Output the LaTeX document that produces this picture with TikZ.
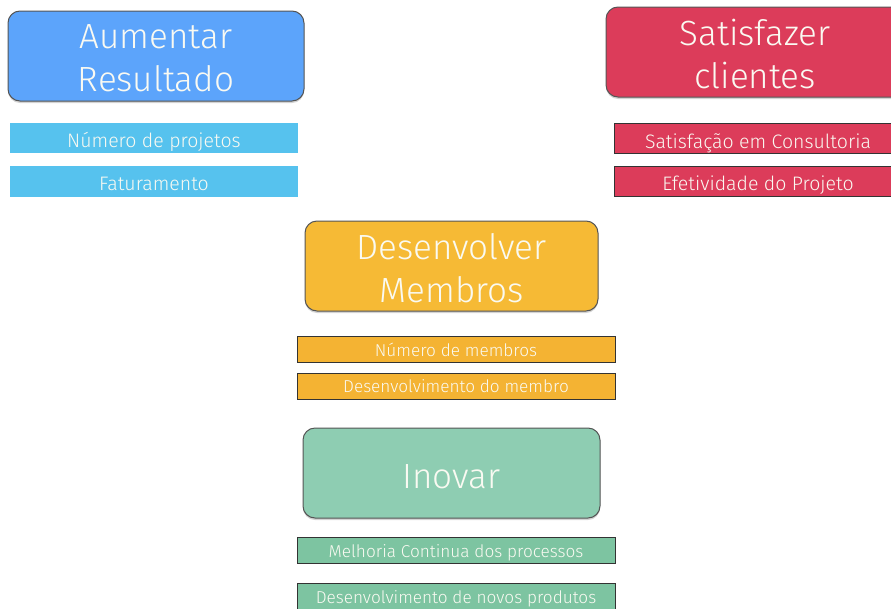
\documentclass[tikz,border=0pt]{standalone}
\usepackage{fontspec}
\setmainfont{Fira Sans Light}
\usetikzlibrary{shadows}
\definecolor{cblue}{HTML}{5CA4FB}
\definecolor{cblueb}{HTML}{56C2EE}
\definecolor{cred}{HTML}{DC3C5A}
\definecolor{cyel}{HTML}{F6BA35}
\definecolor{cyelb}{HTML}{F4B333}
\definecolor{cgreen}{HTML}{8ECDB2}
\definecolor{cgreenb}{HTML}{7DC4A1}
\definecolor{ctext}{HTML}{FAFAF2}
\definecolor{cedge}{HTML}{555555}
% text whose baseline lies #1 pt above the node centre, taking no room
\newcommand{\bl}[2]{\raisebox{#1pt}[0pt][0pt]{#2}}
\newcommand{\twolines}[2]{\begin{tabular}[t]{@{}c@{}}#1\\#2\end{tabular}}
\tikzset{
  bigbox/.style={draw=cedge, line width=1pt, rounded corners=12pt, minimum height=90pt,
    text=ctext, font=\fontsize{35}{43.5}\selectfont, inner sep=0pt,
    drop shadow={opacity=0.35, shadow xshift=0pt, shadow yshift=-2pt}},
  barbox/.style={rectangle, minimum height=30pt, text=ctext, inner sep=0pt,
    font=\fontsize{19.5}{21}\selectfont},
  smallbar/.style={barbox, minimum width=318pt, minimum height=26pt, font=\fontsize{17.2}{19}\selectfont},
  edged/.style={draw=black!80, line width=0.8pt},
}
\begin{document}
\begin{tikzpicture}[x=1pt,y=-1pt]
\useasboundingbox (0,0) rectangle (891,608);
\clip (0,0) rectangle (891,608);
% big boxes
\node[bigbox, fill=cblue, minimum width=296pt] (ar) at (156,56) {\bl{7.7}{\twolines{Aumentar}{Resultado}}};
\node[bigbox, fill=cred, minimum width=298pt] (sc) at (755,52) {\bl{7}{\twolines{Satisfazer}{clientes}}};
\node[bigbox, fill=cyel, minimum width=293pt] (dm) at (451.5,266) {\bl{6.7}{\twolines{Desenvolver}{Membros}}};
\node[bigbox, fill=cgreen, minimum width=297pt] (in) at (451.5,473) {\bl{-15.3}{Inovar}};
% blue bars
\node[barbox, fill=cblueb, minimum width=288pt] (np) at (154,138) {\bl{-9.7}{Número de projetos}};
\node[barbox, fill=cblueb, minimum width=288pt, minimum height=31pt] (fa) at (154,181.5) {\bl{-8.5}{Faturamento}};
% red bars
\node[barbox, edged, fill=cred, minimum width=288pt] (sco) at (758,138.5) {\bl{-10}{Satisfação em Consultoria}};
\node[barbox, edged, fill=cred, minimum width=288pt] (ep) at (758,181.5) {\bl{-8.5}{Efetividade do Projeto}};
% yellow bars
\node[smallbar, edged, fill=cyelb] (nm) at (456,349) {\bl{-7.7}{Número de membros}};
\node[smallbar, edged, fill=cyelb] (dme) at (456,386) {\bl{-6.7}{Desenvolvimento do membro}};
% green bars
\node[smallbar, edged, fill=cgreenb] (mc) at (456,550) {\bl{-7.3}{Melhoria Continua dos processos}};
\node[smallbar, edged, fill=cgreenb, minimum height=28pt] (dn) at (456,597) {\bl{-6.3}{Desenvolvimento de novos produtos}};
\end{tikzpicture}
\end{document}
